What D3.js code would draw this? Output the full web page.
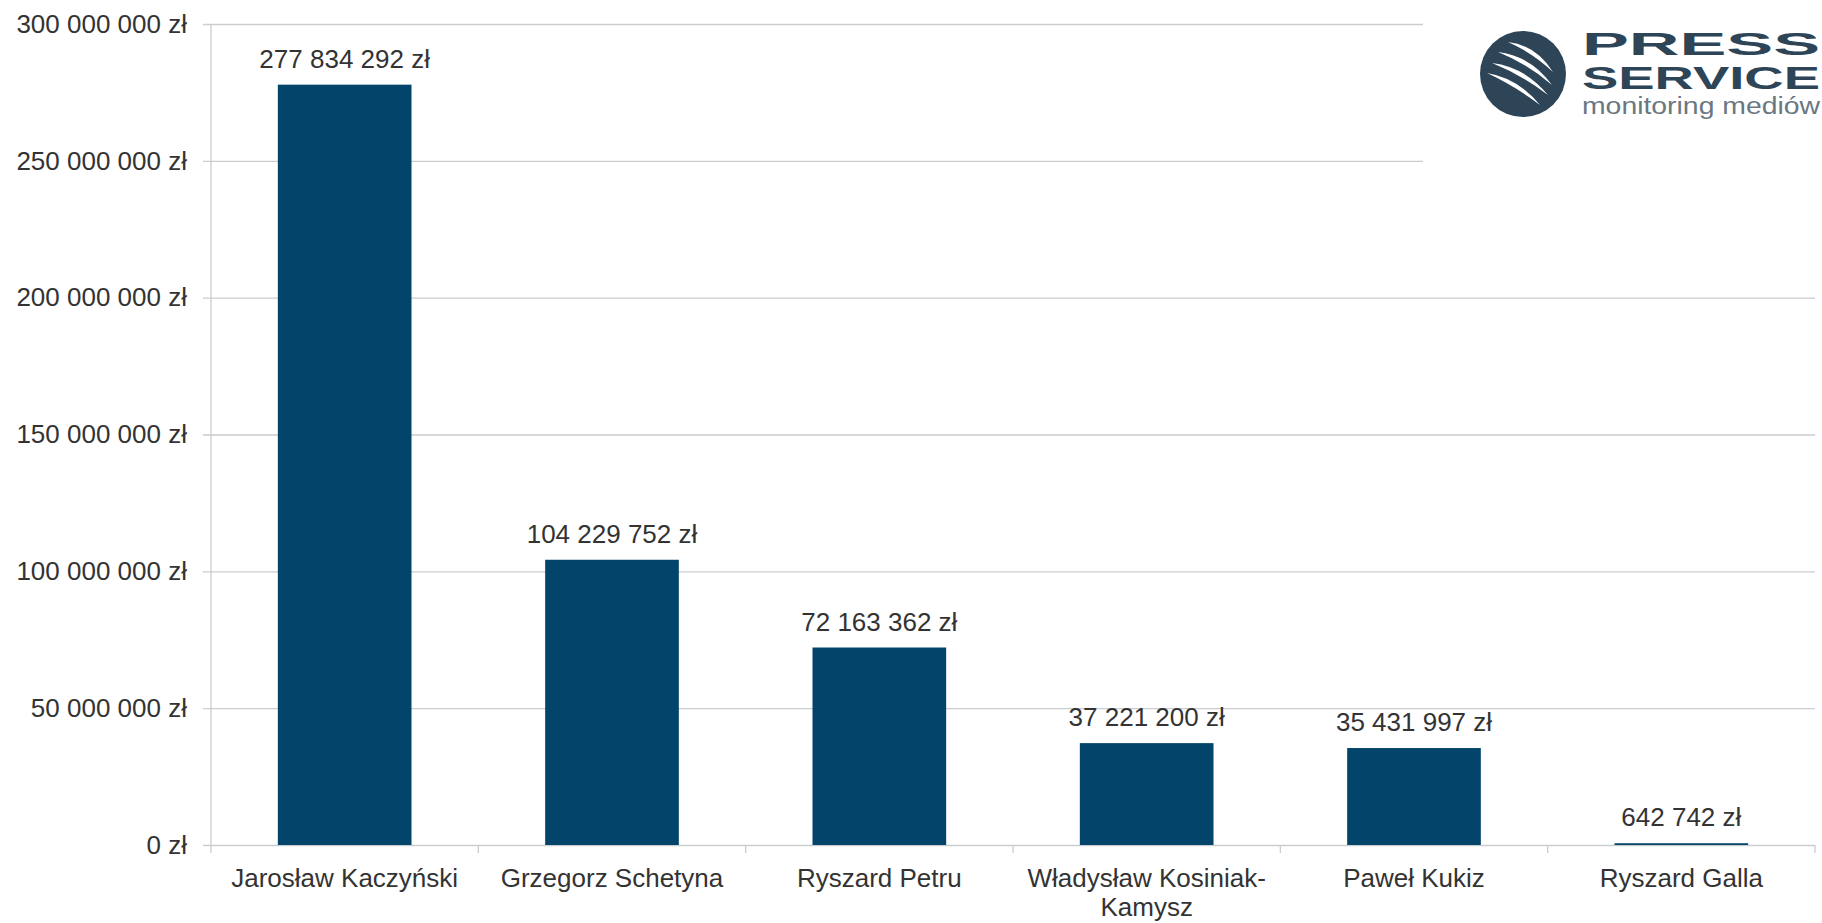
<!DOCTYPE html>
<html>
<head>
<meta charset="utf-8">
<script src="https://cdn.jsdelivr.net/npm/d3@7"></script>
<style>
  html, body { margin: 0; padding: 0; background: #fff; }
  svg { display: block; }
  text { font-family: "Liberation Sans", Arial, sans-serif; }
</style>
</head>
<body>
<svg id="chart" width="1822" height="923"></svg>
<script>
const categories = ["Jarosław Kaczyński", "Grzegorz Schetyna", "Ryszard Petru", "Władysław Kosiniak-Kamysz", "Paweł Kukiz", "Ryszard Galla"];
const values = [277834292, 104229752, 72163362, 37221200, 35431997, 642742];
const yTicks = [0, 50000000, 100000000, 150000000, 200000000, 250000000, 300000000];

const W = 1822, H = 923;
const margin = { left: 211, right: 7, top: 24, bottom: 78 };
const svg = d3.select("#chart");

const locale = d3.formatLocale({ decimal: ",", thousands: " ", grouping: [3], currency: ["", " zł"] });
const fmt = v => locale.format(",.0f")(v) + " zł";

const x = d3.scaleBand().domain(categories).range([margin.left, W - margin.right]).paddingInner(0.5).paddingOuter(0.25);
const xCat = d3.scaleBand().domain(categories).range([margin.left, W - margin.right]).padding(0);
const y = d3.scaleLinear().domain([0, 300000000]).range([H - margin.bottom, margin.top]);

const gridColor = "#c9cdd0";
const textColor = "#333333";

// Gridlines with left tick stubs
const yAxis = d3.axisLeft(y).tickValues(yTicks).tickSize(0).tickPadding(24).tickFormat(fmt);
const gy = svg.append("g").attr("transform", `translate(${margin.left},0)`).call(yAxis);
gy.select(".domain").remove();
gy.selectAll(".tick line").remove();
gy.selectAll(".tick").append("line")
  .attr("x1", -8).attr("x2", W - margin.right - margin.left)
  .attr("stroke", gridColor).attr("stroke-width", 1.3);
gy.selectAll(".tick text").attr("fill", textColor).style("font-size", "26px")
  .attr("font-family", "Liberation Sans, Arial, sans-serif");

// Vertical axis line
svg.append("line").attr("x1", margin.left).attr("x2", margin.left)
  .attr("y1", y(300000000)).attr("y2", y(0) + 8)
  .attr("stroke", gridColor).attr("stroke-width", 1.3);

// Category boundary ticks
const bounds = categories.map(c => xCat(c) + xCat.bandwidth());
svg.append("g").selectAll("line").data(bounds).join("line")
  .attr("x1", d => d).attr("x2", d => d)
  .attr("y1", y(0)).attr("y2", y(0) + 8)
  .attr("stroke", gridColor).attr("stroke-width", 1.3);

// Bars
svg.append("g").selectAll("rect").data(categories).join("rect")
  .attr("x", d => x(d))
  .attr("width", x.bandwidth())
  .attr("y", (d, i) => y(values[i]))
  .attr("height", (d, i) => Math.max(1, y(0) - y(values[i])))
  .attr("fill", "#03446a");

// Data labels
svg.append("g").selectAll("text").data(categories).join("text")
  .attr("x", d => x(d) + x.bandwidth() / 2)
  .attr("y", (d, i) => Math.min(y(values[i]), y(0) - 1) - 17)
  .attr("text-anchor", "middle")
  .attr("fill", textColor)
  .style("font-size", "26px")
  .text((d, i) => fmt(values[i]));

// Category labels (wrap after hyphen when too long)
const catG = svg.append("g");
categories.forEach(c => {
  let lines = [c];
  if (c.length > 20 && c.includes("-")) {
    const k = c.indexOf("-");
    lines = [c.slice(0, k + 1), c.slice(k + 1)];
  }
  const t = catG.append("text")
    .attr("x", xCat(c) + xCat.bandwidth() / 2)
    .attr("y", y(0) + 42)
    .attr("text-anchor", "middle")
    .attr("fill", textColor)
    .style("font-size", "26px");
  lines.forEach((l, i) => {
    t.append("tspan").attr("x", xCat(c) + xCat.bandwidth() / 2).attr("dy", i === 0 ? 0 : 29).text(l);
  });
});

// Logo (white backdrop covering gridlines)
const logo = svg.append("g");
logo.append("rect").attr("x", 1423).attr("y", 0).attr("width", W - 1423).attr("height", 180).attr("fill", "#fff");
const logoColor = "#2e4558";
const cx = 1523, cy = 74, r = 43;
logo.append("clipPath").attr("id", "lc").append("circle").attr("cx", cx).attr("cy", cy).attr("r", r);
logo.append("circle").attr("cx", cx).attr("cy", cy).attr("r", r).attr("fill", logoColor);
const streaks = [
  [[1508, 42], [1536, 45], [1553, 72]],
  [[1498, 52], [1531, 56], [1552, 85]],
  [[1492, 63], [1525, 67], [1548, 95]],
  [[1487, 73], [1518, 78], [1540, 105]]
];
logo.append("g").attr("clip-path", "url(#lc)").selectAll("path").data(streaks).join("path")
  .attr("d", s => `M${s[0][0]},${s[0][1]} Q${s[1][0]},${s[1][1]} ${s[2][0]},${s[2][1]} Q${s[1][0] - 3},${s[1][1] + 8} ${s[0][0]},${s[0][1]} Z`)
  .attr("fill", "#fff");
logo.append("text").attr("x", 1582).attr("y", 55).attr("textLength", 238).attr("lengthAdjust", "spacingAndGlyphs")
  .attr("fill", logoColor).style("font-size", "31px").style("font-weight", "bold")
  .attr("font-family", "DejaVu Sans, sans-serif").text("PRESS");
logo.append("text").attr("x", 1582).attr("y", 89).attr("textLength", 238).attr("lengthAdjust", "spacingAndGlyphs")
  .attr("fill", logoColor).style("font-size", "31px").style("font-weight", "bold")
  .attr("font-family", "DejaVu Sans, sans-serif").text("SERVICE");
logo.append("text").attr("x", 1582).attr("y", 114).attr("textLength", 238).attr("lengthAdjust", "spacingAndGlyphs")
  .attr("fill", "#6b7781").style("font-size", "23px").style("font-weight", "300")
  .attr("font-family", "DejaVu Sans, sans-serif").text("monitoring mediów");
</script>
</body>
</html>
